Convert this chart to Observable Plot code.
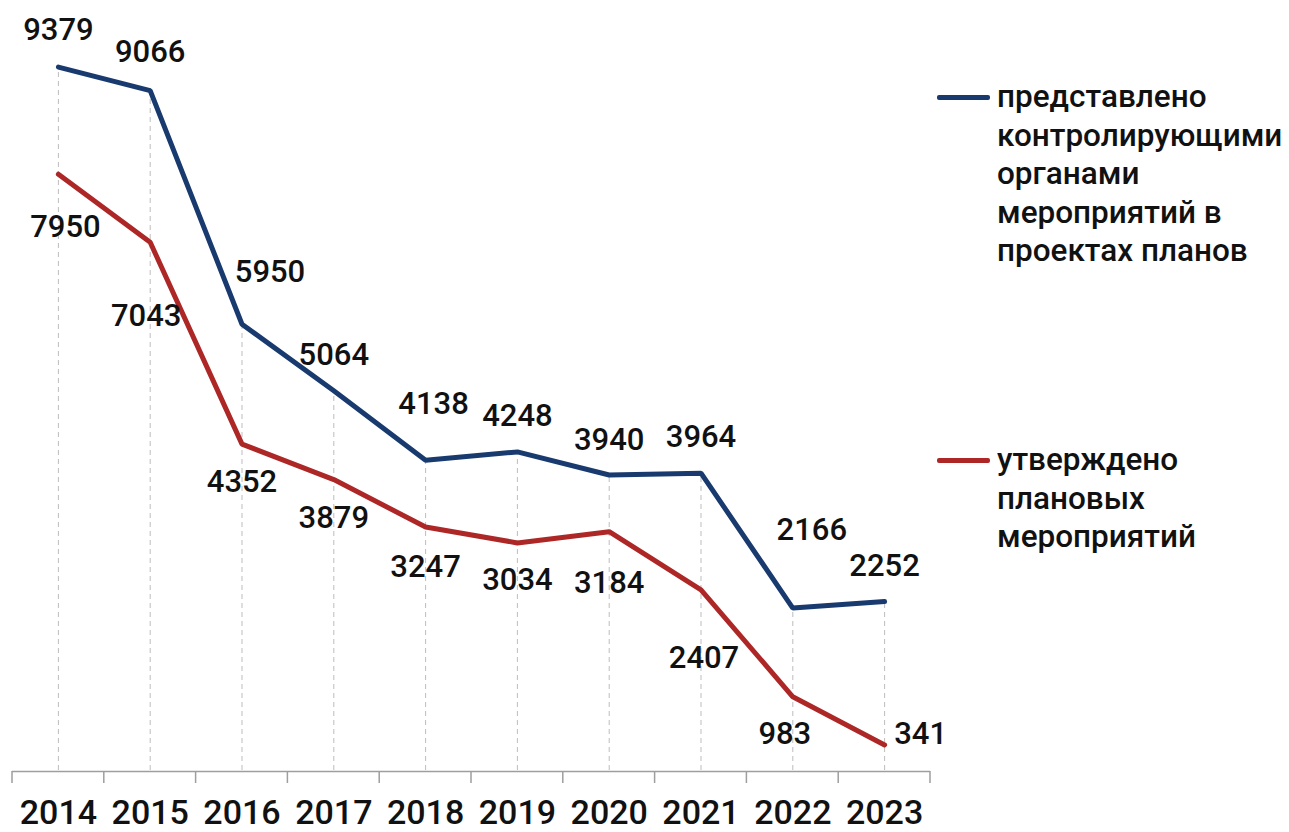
<!DOCTYPE html>
<html>
<head>
<meta charset="utf-8">
<script src="https://cdn.jsdelivr.net/npm/d3@7"></script>
<script src="https://cdn.jsdelivr.net/npm/@observablehq/plot@0.6"></script>
<style>
  html, body { margin: 0; padding: 0; background: #fff; }
  body { width: 1289px; height: 832px; overflow: hidden; font-family: Roboto, "Noto Sans", sans-serif; }
  #wrap { position: relative; width: 1289px; height: 832px; }
  #chart { position: absolute; left: 0; top: 0; }
  .legend { position: absolute; left: 937px; font-family: Roboto, sans-serif; font-size: 31.5px; font-weight: 500; line-height: 38.5px; color: #111; }
  .legend .item { display: flex; align-items: flex-start; }
  .legend .swatch { width: 53px; height: 5px; border-radius: 2px; margin-top: 17px; margin-right: 7px; flex: none; }
  .legend .label { white-space: nowrap; }
</style>
</head>
<body>
<div id="wrap">
  <div id="chart"></div>
  <div class="legend" id="legend"></div>
</div>
<script>
const years = [2014, 2015, 2016, 2017, 2018, 2019, 2020, 2021, 2022, 2023];
const submitted = [9379, 9066, 5950, 5064, 4138, 4248, 3940, 3964, 2166, 2252];
const approved = [7950, 7043, 4352, 3879, 3247, 3034, 3184, 2407, 983, 341];
const seriesNames = [
  ["представлено", "контролирующими", "органами", "мероприятий в", "проектах планов"],
  ["утверждено", "плановых", "мероприятий"]
];
const seriesColors = ["#183a6e", "#ad2727"];

// label placement (pixel offsets from the point)
const submittedOffsets = [[0,-37],[0,-38],[28,-52],[0,-36],[8,-56],[0,-36],[0,-35],[0,-36],[19,-78],[0,-36]];
const approvedOffsets = [[7,53],[-4,74],[0,38],[0,39],[0,40],[0,37],[0,51],[3,68],[-8,37],[36,-11]];

const rows = years.map((y, i) => ({year: y, a: submitted[i], b: approved[i]}));
const boundaries = d3.range(years[0] - 0.5, years[years.length - 1] + 1, 1);

const labelMarks = [];
[[submitted, submittedOffsets], [approved, approvedOffsets]].forEach(([vals, offs]) => {
  vals.forEach((v, i) => {
    labelMarks.push(Plot.text([i], {
      x: d => years[d], y: d => vals[d], text: d => String(vals[d]),
      dx: offs[i][0], dy: offs[i][1],
      fontSize: 31, fontWeight: 500, fill: "#111", textAnchor: "middle", lineAnchor: "middle"
    }));
  });
});

const chart = Plot.plot({
  width: 935,
  height: 832,
  marginLeft: 12,
  marginRight: 5,
  marginTop: 20,
  marginBottom: 62,
  style: {fontFamily: "Roboto, sans-serif", background: "transparent", overflow: "visible"},
  x: {type: "linear", domain: [years[0] - 0.5, years[years.length - 1] + 0.5], axis: null},
  y: {type: "linear", domain: [0, 10000], axis: null},
  marks: [
    Plot.ruleX(rows, {x: "year", y1: 0, y2: "a", stroke: "#bdbdbd", strokeWidth: 1, strokeDasharray: "5,4"}),
    Plot.ruleY([0], {stroke: "#9e9e9e", strokeWidth: 1.5, dy: 1}),
    Plot.line(rows, {x: "year", y: "a", stroke: seriesColors[0], strokeWidth: 5, strokeLinejoin: "miter"}),
    Plot.line(rows, {x: "year", y: "b", stroke: seriesColors[1], strokeWidth: 5, strokeLinejoin: "miter"}),
    ...labelMarks,
    Plot.text(years, {x: d => d, y: () => 0, text: d => String(d), dy: 43, fontSize: 34, fontWeight: 500, fill: "#111", textAnchor: "middle", lineAnchor: "middle"})
  ]
});
document.getElementById("chart").append(chart);

// tick marks below the axis line at category boundaries
{
  const sx = chart.scale("x"), sy = chart.scale("y");
  const svg = d3.select(chart);
  svg.selectAll("line.bt").data(boundaries).join("line").attr("class", "bt")
    .attr("x1", d => sx.apply(d)).attr("x2", d => sx.apply(d))
    .attr("y1", sy.apply(0) + 1).attr("y2", sy.apply(0) + 13)
    .attr("stroke", "#9e9e9e").attr("stroke-width", 1.5);
}

const legend = document.getElementById("legend");
const legendTops = [78, 441];
seriesNames.forEach((lines, k) => {
  const item = document.createElement("div");
  item.className = "item";
  item.style.position = "absolute";
  item.style.top = legendTops[k] + "px";
  item.style.left = "0px";
  const sw = document.createElement("div");
  sw.className = "swatch";
  sw.style.background = seriesColors[k];
  const lab = document.createElement("div");
  lab.className = "label";
  lab.innerHTML = lines.join("<br>");
  item.append(sw, lab);
  legend.append(item);
});
</script>
</body>
</html>
